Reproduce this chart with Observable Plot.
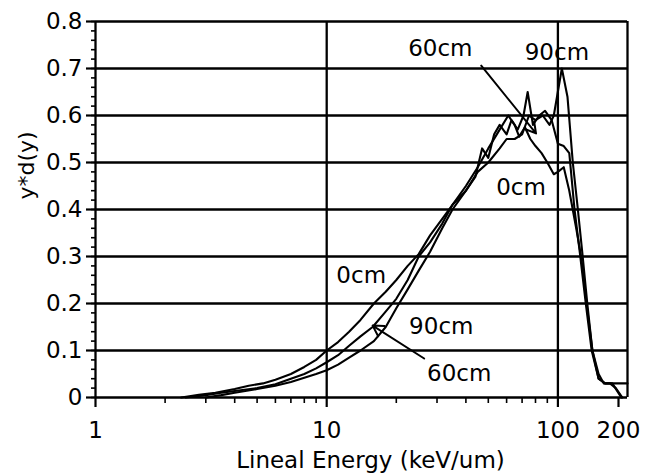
<!DOCTYPE html>
<html><head><meta charset="utf-8">
<script src="https://cdn.jsdelivr.net/npm/d3@7"></script>
<script src="https://cdn.jsdelivr.net/npm/@observablehq/plot@0.6"></script>
<style>body{margin:0;background:#fff} svg{font-family:"DejaVu Sans",sans-serif}</style>
</head><body><div id="chart"></div>
<script>
// Series: lineal energy (keV/um) and y*d(y)
const x0cm = [2.35,2.8,3.3,4,4.6,5.3,6,7,8,9,10,11.2,12.5,14,16,18,20,22.4,25,28,31.6,35,40,45,50,56,61,65,68,72,76,80,85,90,96,100,106,112,120,126,133,141,150,158,168,178,190];
const y0cm = [0,0.006,0.01,0.018,0.025,0.03,0.038,0.05,0.065,0.08,0.1,0.118,0.14,0.165,0.2,0.225,0.25,0.28,0.305,0.345,0.38,0.41,0.45,0.49,0.53,0.57,0.6,0.58,0.555,0.575,0.55,0.535,0.52,0.5,0.475,0.48,0.49,0.44,0.36,0.3,0.2,0.1,0.05,0.03,0.03,0.02,0];
const x60cm = [2.45,3,3.5,4,5,6,7,8,9,10,11.2,12.5,14,15.8,17.8,20,22.4,25,28,31.6,35,40,44,47,50,53,56,60,63,67,71,74,78,83,88,94,100,106,112,118,125,132,140,150,160,175,200];
const y60cm = [0,0.005,0.01,0.014,0.02,0.028,0.04,0.05,0.062,0.075,0.09,0.11,0.13,0.15,0.18,0.21,0.25,0.3,0.33,0.37,0.41,0.44,0.47,0.53,0.51,0.56,0.58,0.56,0.59,0.57,0.6,0.65,0.58,0.6,0.61,0.59,0.54,0.535,0.52,0.4,0.3,0.2,0.1,0.04,0.03,0.03,0.03];
const x90cm = [3,3.5,4,5,6,7,8,9,10,11.2,12.5,14,16,18,20,22.4,25,28,31.6,35,40,45,50,56,60,65,70,75,80,86,92,96,104,110,116,122,128,134,141,150,160,172,188];
const y90cm = [0,0.005,0.01,0.018,0.025,0.033,0.042,0.05,0.058,0.07,0.085,0.1,0.12,0.15,0.19,0.23,0.27,0.31,0.36,0.4,0.44,0.48,0.5,0.53,0.55,0.55,0.56,0.6,0.59,0.6,0.58,0.6,0.7,0.64,0.5,0.4,0.3,0.2,0.1,0.04,0.03,0.03,0];

// Axis ticks
const xTickLabels = [1, 10, 100];
const xTickEnd = [200];
const xMinor = [2,3,4,5,6,7,8,9,20,30,40,50,60,70,80,90];
const xGrid = [10, 100, 200];
const yTicks = [0,0.1,0.2,0.3,0.4,0.5,0.6,0.7,0.8];
const yMinor = d3.range(0, 0.801, 0.02);

// Annotations
const annText = ["60cm","90cm","0cm","0cm","90cm","60cm"];
const annX = [31, 99, 69.3, 14.1, 31.3, 37.4];
const annY = [0.743, 0.734, 0.447, 0.26, 0.151, 0.051];
const arrX1 = [46.6, 26.4], arrY1 = [0.706, 0.083];
const arrX2 = [80.4, 15.8], arrY2 = [0.562, 0.153];

const series = [["0cm", x0cm, y0cm], ["60cm", x60cm, y60cm], ["90cm", x90cm, y90cm]];
const data = series.flatMap(([s, xs, ys]) => xs.map((x, i) => ({series: s, x, y: ys[i]})));
const ann = annText.map((t, i) => ({t, x: annX[i], y: annY[i]}));
const arrows = arrX1.map((_, i) => ({x1: arrX1[i], y1: arrY1[i], x2: arrX2[i], y2: arrY2[i]}));

const chart = Plot.plot({
  width: 652, height: 476,
  marginLeft: 95, marginRight: 25, marginTop: 21, marginBottom: 79,
  style: {fontFamily: "DejaVu Sans", fontSize: "23px", color: "black", background: "white"},
  x: {type: "log", domain: [1, 200]},
  y: {domain: [0, 0.8]},
  marks: [
    Plot.ruleY(yTicks, {stroke: "black", strokeWidth: 2.3}),
    Plot.ruleX([1], {stroke: "black", strokeWidth: 2.3}),
    Plot.ruleX(xGrid, {stroke: "black", strokeWidth: 2.3}),
    Plot.axisY(yMinor, {tickSize: 4, fill: "none", strokeWidth: 1.6, label: null}),
    Plot.axisY(yTicks, {tickSize: 9, tickPadding: 4, strokeWidth: 2.2, fontSize: 23, label: null,
      tickFormat: d => d === 0 ? "0" : d.toFixed(1)}),
    Plot.axisX(xMinor, {tickSize: 6, fill: "none", strokeWidth: 1.6, label: null}),
    Plot.axisX(xTickLabels, {tickSize: 10, tickPadding: 14, strokeWidth: 2.2, fontSize: 23, label: null, tickFormat: d => String(d)}),
    Plot.axisX(xTickEnd, {tickSize: 10, tickPadding: 14, strokeWidth: 2.2, fontSize: 23, label: null, tickFormat: d => String(d), dx: -9}),
    Plot.line(data, {x: "x", y: "y", z: "series", stroke: "black", strokeWidth: 2.1}),
    Plot.arrow(arrows, {x1: "x1", y1: "y1", x2: "x2", y2: "y2", stroke: "black", strokeWidth: 2, headLength: 9}),
    Plot.text(ann, {x: "x", y: "y", text: "t", fontSize: 23, fill: "black"}),
    Plot.text(["Lineal Energy (keV/um)"], {frameAnchor: "bottom", dy: 70, dx: 9, fontSize: 23, fill: "black"}),
    Plot.text(["y*d(y)"], {frameAnchor: "left", dx: -69, dy: -10, rotate: -90, fontSize: 22, fill: "black"})
  ]
});
document.getElementById("chart").appendChild(chart);
</script>
</body></html>
